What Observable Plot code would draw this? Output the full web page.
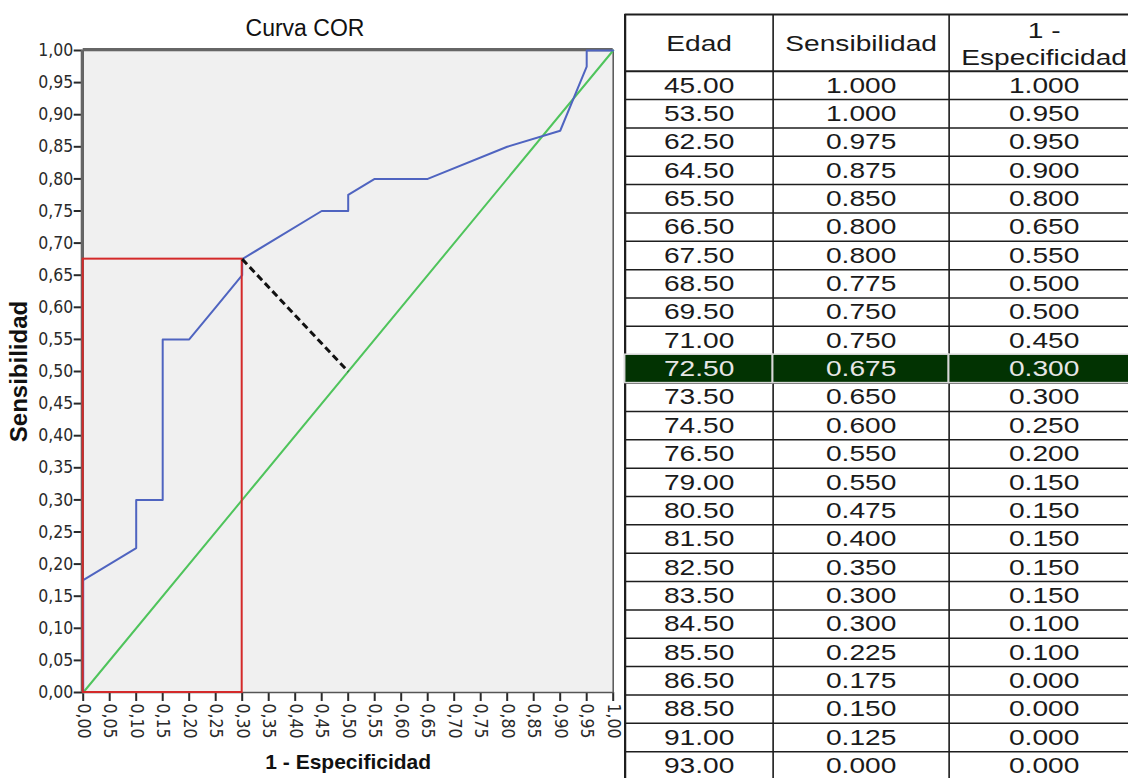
<!DOCTYPE html>
<html><head><meta charset="utf-8">
<script src="https://cdn.jsdelivr.net/npm/d3@7"></script>
<script src="https://cdn.jsdelivr.net/npm/@observablehq/plot@0.6"></script>
<style>
html,body{margin:0;padding:0;background:#fff;}
#page{position:relative;width:1128px;height:778px;overflow:hidden;background:#fff;}
#title{position:absolute;left:0;top:17px;width:610px;text-align:center;font:23px/23px "Liberation Sans",Arial,sans-serif;color:#111;}
#roc{position:absolute;left:0;top:0;}
#tbl{position:absolute;left:621.5px;top:0;transform:scaleX(1.25);transform-origin:0 0;}
</style></head>
<body><div id="page"><div id="roc"></div><div id="title">Curva COR</div><div id="tbl"></div></div>
<script>
// ---- data ----
const edad = [45.00, 53.50, 62.50, 64.50, 65.50, 66.50, 67.50, 68.50, 69.50, 71.00, 72.50, 73.50, 74.50,
  76.50, 79.00, 80.50, 81.50, 82.50, 83.50, 84.50, 85.50, 86.50, 88.50, 91.00, 93.00];
const sensibilidad = [1.000, 1.000, 0.975, 0.875, 0.850, 0.800, 0.800, 0.775, 0.750, 0.750, 0.675, 0.650, 0.600,
  0.550, 0.550, 0.475, 0.400, 0.350, 0.300, 0.300, 0.225, 0.175, 0.150, 0.125, 0.000];
const unoMenosEspecificidad = [1.000, 0.950, 0.950, 0.900, 0.800, 0.650, 0.550, 0.500, 0.500, 0.450, 0.300, 0.300, 0.250,
  0.200, 0.150, 0.150, 0.150, 0.150, 0.150, 0.100, 0.100, 0.000, 0.000, 0.000, 0.000];
const headers = ["Edad", "Sensibilidad", "1 -\nEspecificidad"];
const tickValues = [0, 0.05, 0.10, 0.15, 0.20, 0.25, 0.30, 0.35, 0.40, 0.45, 0.50, 0.55, 0.60, 0.65, 0.70,
  0.75, 0.80, 0.85, 0.90, 0.95, 1.00];
const cutoffEdad = 72.50;
const diagonal = [{x: 0, y: 0}, {x: 1, y: 1}];
const diagonalFoot = 0.5;

// ---- derived ----
const rows = edad.map((e, i) => ({edad: e, sens: sensibilidad[i], fpr: unoMenosEspecificidad[i]}));
const curve = rows.slice().reverse();
const best = rows.find(d => d.edad === cutoffEdad);
const bestIndex = rows.indexOf(best);
const youdenSeg = [{x1: best.fpr, y1: best.sens, x2: diagonalFoot, y2: diagonalFoot}];

const narrow = '"Liberation Sans Narrow","Arial Narrow","DejaVu Sans Condensed",sans-serif';
const fmt = d => d.toFixed(2).replace(".", ",");

const roc = Plot.plot({
  width: 620, height: 778,
  marginLeft: 82.7, marginRight: 7.3, marginTop: 50, marginBottom: 86,
  x: {domain: [0, 1]}, y: {domain: [0, 1]},
  style: {fontFamily: narrow, background: "transparent", overflow: "visible", color: "#222"},
  marks: [
    Plot.frame({fill: "#f0f0f0"}),
    Plot.axisY(tickValues, {tickSize: 9, tickPadding: 1, tickFormat: fmt, fontSize: 17.5, strokeWidth: 2, color: "#2a2a2a", label: null}),
    Plot.axisX(tickValues, {tickSize: 9, tickPadding: 2, tickFormat: fmt, tickRotate: 90, fontSize: 17.5, strokeWidth: 2, color: "#2a2a2a", label: null}),
    Plot.frame({stroke: "#555", strokeWidth: 1.5}),
    Plot.ruleX([0], {stroke: "#666", strokeWidth: 3, dx: -1}),
    Plot.ruleY([1], {stroke: "#666", strokeWidth: 3, dy: -1}),
    Plot.line(diagonal, {x: "x", y: "y", stroke: "#4fc45c", strokeWidth: 2}),
    Plot.line(curve, {x: "fpr", y: "sens", stroke: "#4f64c0", strokeWidth: 2, curve: "linear"}),
    Plot.rect([best], {x1: 0, x2: "fpr", y1: 0, y2: "sens", fill: "none", stroke: "#d42a2a", strokeWidth: 2}),
    Plot.link(youdenSeg, {x1: "x1", y1: "y1", x2: "x2", y2: "y2", stroke: "#111", strokeWidth: 3, strokeDasharray: "7,4"}),
    Plot.text(["Sensibilidad"], {frameAnchor: "left", textAnchor: "middle", rotate: -90, dx: -64, fontWeight: "bold", fontSize: 24,
      fontFamily: '"Liberation Sans",Arial,sans-serif', fill: "#111"}),
    Plot.text(["1 - Especificidad"], {frameAnchor: "bottom", textAnchor: "middle", dy: 76, fontWeight: "bold", fontSize: 21,
      fontFamily: '"Liberation Sans",Arial,sans-serif', fill: "#111"})
  ]
});
document.getElementById("roc").appendChild(roc);

// ---- table ----
const fmtCol = [d => d.edad.toFixed(2), d => d.sens.toFixed(3), d => d.fpr.toFixed(3)];
const cells = [];
rows.forEach((r, i) => fmtCol.forEach((f, c) => cells.push({col: c, row: i, text: f(r), hi: i === bestIndex})));
const headCells = headers.map((h, c) => ({col: c, text: h}));
const hiCells = cells.filter(d => d.hi);
const hLines = d3.range(0, rows.length + 3).filter(k => k !== 1);
const vLines = [0, 1, 2];

const tbl = Plot.plot({
  width: 420, height: 778, margin: 0,
  x: {type: "linear", domain: [0, 1, 2, 3], range: [2, 120.4, 261.2, 413.2], axis: null},
  y: {type: "linear", domain: [0, 27], range: [14, 779.5], axis: null},
  style: {fontFamily: '"Liberation Sans",Arial,sans-serif', background: "transparent", overflow: "visible"},
  marks: [
    Plot.ruleY(hLines, {y: d => d, x1: 0, x2: 3, stroke: "#1e1e1e", strokeWidth: d => (d === 0 || d === 2) ? 2 : 1.5}),
    Plot.ruleX(vLines, {x: d => d, y1: 0, y2: 27, stroke: "#1e1e1e", strokeWidth: d => d === 0 ? 1.8 : 1.3}),
    Plot.rect(hiCells, {x1: "col", x2: d => d.col + 1, y1: d => d.row + 2, y2: d => d.row + 3,
      fill: "#023302", stroke: "#d8d8d8", strokeWidth: 1.5}),
    Plot.text(headCells, {x: d => d.col + 0.5, y: 1, text: "text", fontSize: 22.5, lineHeight: 1.2, dy: 0, fill: "#1a1a1a"}),
    Plot.text(cells, {x: d => d.col + 0.5, y: d => d.row + 2.5, text: "text", fontSize: 22.5,
      fill: d => d.hi ? "#e6e6e6" : "#1a1a1a"})
  ]
});
document.getElementById("tbl").appendChild(tbl);
</script></body></html>
